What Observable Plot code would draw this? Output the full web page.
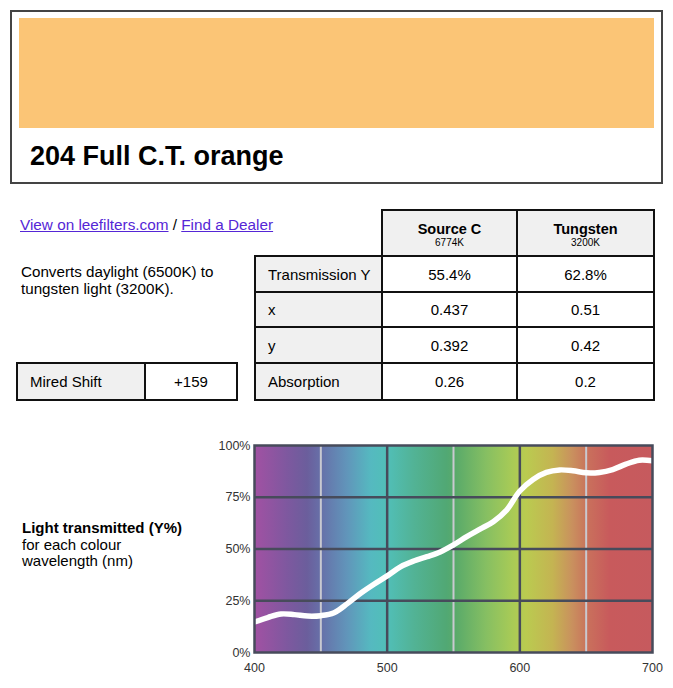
<!DOCTYPE html>
<html>
<head>
<meta charset="utf-8">
<script src="https://cdn.jsdelivr.net/npm/d3@7"></script>
<script src="https://cdn.jsdelivr.net/npm/@observablehq/plot@0.6"></script>
<style>
  html, body { margin: 0; padding: 0; background: #fff; }
  body { width: 673px; height: 688px; position: relative; overflow: hidden;
         font-family: "Liberation Sans", Arial, Helvetica, sans-serif; color: #000; }
  .abs { position: absolute; }
  #box { left: 10px; top: 10px; width: 653px; height: 174px; box-sizing: border-box;
         border: 2px solid #444; }
  #swatch { left: 19px; top: 18px; width: 635px; height: 110px; background: #fbc576; }
  #title { left: 30px; top: 141px; font-size: 27px; font-weight: bold; line-height: 30px; white-space: nowrap; }
  #links { left: 20px; top: 215.5px; font-size: 15.3px; line-height: 18px; white-space: nowrap; }
  #links a { color: #5526d6; text-decoration: underline; }
  #desc { left: 21px; top: 262.5px; font-size: 15.2px; line-height: 17.6px; }
  .cell { position: absolute; box-sizing: border-box; border: 2px solid #111;
          display: flex; align-items: center; font-size: 15px; }
  .gray { background: #f0f0f0; }
  .center { justify-content: center; text-align: center; }
  .left { padding-left: 12px; }
  .hdr { flex-direction: column; justify-content: center; padding-top: 3px; }
  .hdr b { font-size: 14.5px; line-height: 16px; }
  .hdr span { font-size: 10px; line-height: 11px; }
  #chartlabel { left: 22px; top: 520px; font-size: 15px; line-height: 16.5px; }
  #chart { left: 200px; top: 430px; }
</style>
</head>
<body>
<div id="box" class="abs"></div>
<div id="swatch" class="abs"></div>
<div id="title" class="abs"></div>
<div id="links" class="abs"><a href="#">View on leefilters.com</a> / <a href="#">Find a Dealer</a></div>
<div id="desc" class="abs"></div>
<div id="tables"></div>
<div id="chartlabel" class="abs"></div>
<div id="chart" class="abs"></div>
<script>
// ---- data ----
const filterName = "204 Full C.T. orange";
const description = ["Converts daylight (6500K) to", "tungsten light (3200K)."];
const miredLabel = "Mired Shift";
const miredValue = "+159";
const headerNames = ["Source C", "Tungsten"];
const headerKelvin = ["6774K", "3200K"];
const rowLabels = ["Transmission Y", "x", "y", "Absorption"];
const sourceCValues = ["55.4%", "0.437", "0.392", "0.26"];
const tungstenValues = ["62.8%", "0.51", "0.42", "0.2"];
const chartLabel = ["Light transmitted (Y%)", "for each colour", "wavelength (nm)"];

const wavelengths = [400,410,420,430,440,450,460,470,480,490,500,510,520,530,540,550,560,570,580,590,600,610,620,630,640,650,660,670,680,690,700];
const transmission = [14.8,16.9,18.6,18.3,17.6,17.8,19.2,23.6,28.6,33.0,37.0,41.4,44.2,46.3,48.6,52.0,56.0,59.6,63.2,68.8,78.0,83.6,87.0,88.2,87.8,86.8,87.0,88.4,91.0,92.9,92.6];

const xTicks = [400, 500, 600, 700];
const yTicks = [0, 25, 50, 75, 100];
const lightGridX = [450, 550, 650];
const darkGridX = [500, 600];
const darkGridY = [25, 50, 75];

const spectrumWl = [400, 425, 440, 452, 470, 488, 500, 520, 545, 552, 575, 595, 605, 625, 640, 652, 668, 700];
const spectrumColor = ["#a251a3", "#7e589f", "#6b5e9c", "#6673aa", "#6195ba", "#55b9c0", "#51bfb8", "#52b396", "#51a874", "#59aa6a", "#86bf62", "#a9cb56", "#bacb50", "#c4b452", "#c9905e", "#c9705c", "#c85a5c", "#c65a5e"];

// ---- header / text ----
document.getElementById("title").textContent = filterName;
document.getElementById("desc").innerHTML = description.join("<br>");
document.getElementById("chartlabel").innerHTML =
  "<b>" + chartLabel[0] + "</b><br>" + chartLabel.slice(1).join("<br>");

// ---- tables ----
const tables = document.getElementById("tables");
function cell(x0, x1, y0, y1, cls, html) {
  const d = document.createElement("div");
  d.className = "cell " + cls;
  d.style.left = (x0 - 1) + "px";
  d.style.top = (y0 - 1) + "px";
  d.style.width = (x1 - x0 + 2) + "px";
  d.style.height = (y1 - y0 + 2) + "px";
  d.innerHTML = html;
  tables.appendChild(d);
}
const colX = [255, 382, 517, 654];
const rowY = [210, 256, 292, 327, 363, 400];
headerNames.forEach((n, i) => {
  cell(colX[i + 1], colX[i + 2], rowY[0], rowY[1], "gray hdr center", "<b>" + n + "</b><span>" + headerKelvin[i] + "</span>");
});
rowLabels.forEach((lab, r) => {
  cell(colX[0], colX[1], rowY[r + 1], rowY[r + 2], "gray left", lab);
  cell(colX[1], colX[2], rowY[r + 1], rowY[r + 2], "center", sourceCValues[r]);
  cell(colX[2], colX[3], rowY[r + 1], rowY[r + 2], "center", tungstenValues[r]);
});
cell(17, 145, 363, 400, "gray left", miredLabel);
cell(145, 237, 363, 400, "center", miredValue);

// ---- chart ----
const series = wavelengths.map((w, i) => ({w, t: transmission[i]}));
const plotArea = [{x1: wavelengths[0], x2: wavelengths[wavelengths.length - 1], y1: yTicks[0], y2: yTicks[yTicks.length - 1]}];

const chart = Plot.plot({
  width: 473,
  height: 258,
  marginLeft: 54,
  marginRight: 21,
  marginTop: 15,
  marginBottom: 36,
  style: {fontFamily: "'Liberation Sans', Arial, sans-serif", fontSize: "12.5px", color: "#333", background: "transparent", overflow: "visible"},
  x: {domain: [400, 700], ticks: xTicks, tickSize: 0, tickPadding: 11, label: null, tickFormat: d => String(d)},
  y: {domain: [0, 100], ticks: yTicks, tickSize: 0, tickPadding: 4, label: null, tickFormat: d => d + "%"},
  marks: [
    Plot.rect(plotArea, {x1: "x1", x2: "x2", y1: "y1", y2: "y2", fill: "url(#spec)"}),
    Plot.ruleX(lightGridX, {stroke: "#c9c9d0", strokeWidth: 2}),
    Plot.ruleX(darkGridX, {stroke: "#474b5b", strokeWidth: 2.5}),
    Plot.ruleY(darkGridY, {stroke: "#474b5b", strokeWidth: 2.5}),
    Plot.line(series, {x: "w", y: "t", stroke: "white", strokeWidth: 5.5, curve: "catmull-rom"}),
    Plot.frame({stroke: "#474b5b", strokeWidth: 2.5})
  ]
});

// gradient definition for the spectrum background
const ns = "http://www.w3.org/2000/svg";
const defs = document.createElementNS(ns, "defs");
const grad = document.createElementNS(ns, "linearGradient");
grad.setAttribute("id", "spec");
grad.setAttribute("x1", "0"); grad.setAttribute("x2", "1");
grad.setAttribute("y1", "0"); grad.setAttribute("y2", "0");
const w0 = spectrumWl[0], w1 = spectrumWl[spectrumWl.length - 1];
spectrumWl.forEach((w, i) => {
  const s = document.createElementNS(ns, "stop");
  s.setAttribute("offset", ((w - w0) / (w1 - w0)).toFixed(4));
  s.setAttribute("stop-color", spectrumColor[i]);
  grad.appendChild(s);
});
defs.appendChild(grad);
chart.insertBefore(defs, chart.firstChild);
document.getElementById("chart").appendChild(chart);
</script>
</body>
</html>
